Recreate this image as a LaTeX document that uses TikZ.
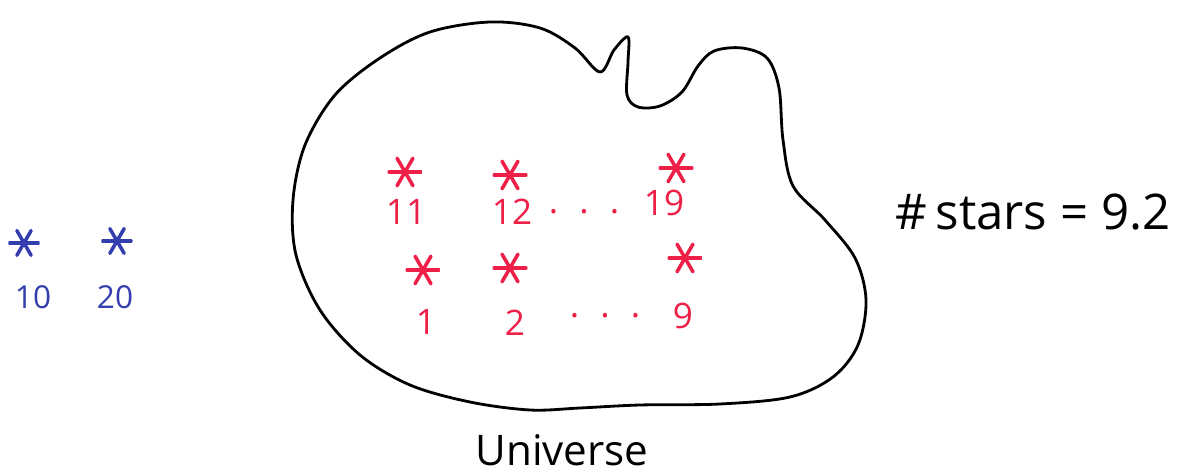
\documentclass[tikz,border=0pt]{standalone}
\usepackage{fontspec}
\setmainfont{Open Sans}
\definecolor{penred}{RGB}{238,32,72}
\definecolor{penblue}{RGB}{52,62,175}
\newcommand{\spreaddots}{.\hspace{0.6em}.\hspace{0.6em}.}
\tikzset{
  starmark/.style = {circle, minimum size = 0.7cm, inner sep = 0pt,
    path picture = {\foreach \a in {0,60,120}
      \draw[#1, line width = 2pt, line cap = round,
        shift = {(path picture bounding box.center)}] (\a:0.32cm) -- (\a+180:0.32cm);}},
  redstar/.style = {starmark = penred},
  bluestar/.style = {starmark = penblue, scale = 0.9}
}
\begin{document}
\begin{tikzpicture}[x = 0.02cm, y = -0.02cm,
  redlabel/.style = {text = penred, font = \fontsize{20}{20}\selectfont, inner sep = 0pt},
  bluelabel/.style = {text = penblue, font = \fontsize{18}{18}\selectfont, inner sep = 0pt}]
\useasboundingbox (0,0) rectangle (1179,475);
% universe
\draw[line width = 1.6pt] plot[smooth cycle, tension = 0.55] coordinates {
  (600,72) (614,50) (628,37) (628,62) (627,95) (638,107) (660,106) (682,92)
  (698,66) (714,51) (742,48) (767,58) (779,88) (783,140) (793,186) (825,220)
  (855,258) (866,300) (858,345) (833,377) (790,397) (720,404) (640,405)
  (580,408) (530,410) (470,402) (410,385) (360,355) (320,310) (296,255)
  (293,200) (305,145) (335,95) (380,58) (430,32) (490,22) (540,28) (575,48)};
\node at (562,450) (uni) {\fontsize{24}{24}\selectfont Universe};
% stars outside
\node[bluestar] at (24,243) (b10) {};
\node[bluestar] at (117,241) (b20) {};
\node[bluelabel] at (33,297) (l10) {10};
\node[bluelabel] at (115,297) (l20) {20};
% stars inside
\node[redstar] at (405,172) (s11) {};
\node[redstar] at (510,175) (s12) {};
\node[redstar] at (676,168) (s19) {};
\node[redstar] at (423,270) (s1) {};
\node[redstar] at (510,268) (s2) {};
\node[redstar] at (685,258) (s9) {};
\node[redlabel] at (406,212) (l11) {11};
\node[redlabel] at (512,212) (l12) {12};
\node[redlabel] at (664,203) (l19) {19};
\node[redlabel] at (426,322) (l1) {1};
\node[redlabel] at (515,323) (l2) {2};
\node[redlabel] at (683,316) (l9) {9};
\node[redlabel] at (584,212) (d1) {\spreaddots};
\node[redlabel] at (605,316) (d2) {\spreaddots};
% count
\node at (1033,212) (count) {\fontsize{28}{28}\selectfont \#\,stars = 9.2};
\end{tikzpicture}
\end{document}
